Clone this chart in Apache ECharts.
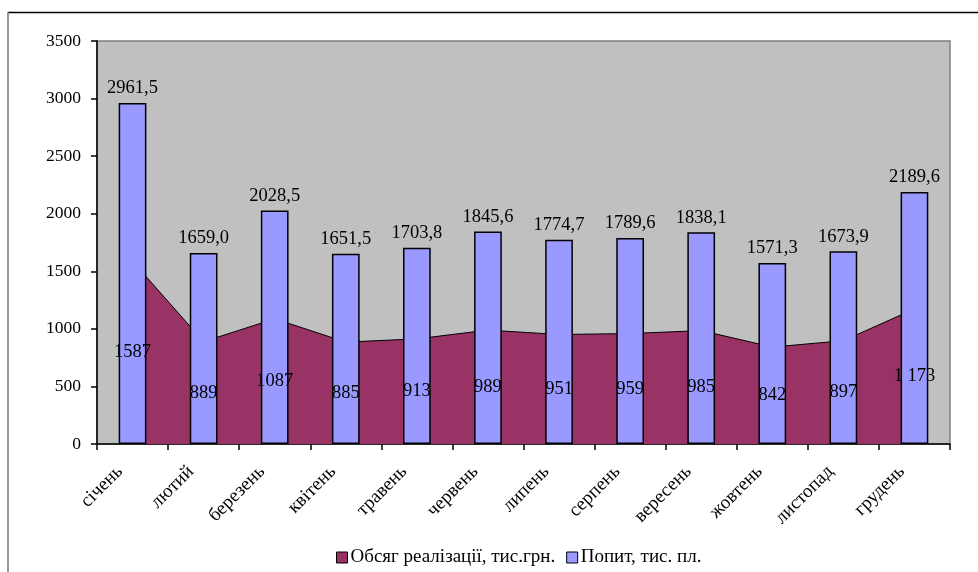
<!DOCTYPE html>
<html>
<head>
<meta charset="utf-8">
<script src="https://cdn.jsdelivr.net/npm/echarts@6/dist/echarts.min.js"></script>
<style>
  html, body { margin: 0; padding: 0; background: #ffffff; }
  #chart { width: 978px; height: 572px; }
</style>
</head>
<body>
<div id="chart"></div>
<script>
// Months of the year
const months = ['січень', 'лютий', 'березень', 'квітень', 'травень', 'червень',
                'липень', 'серпень', 'вересень', 'жовтень', 'листопад', 'грудень'];

// Sales volume, thousand UAH
const salesVolume = [1587, 889, 1087, 885, 913, 989, 951, 959, 985, 842, 897, 1173];
// Text shown on the sales values
const salesText = ['1587', '889', '1087', '885', '913', '989', '951', '959', '985', '842', '897', '1 173'];

// Demand, thousand units
const demand = [2961.5, 1659.0, 2028.5, 1651.5, 1703.8, 1845.6, 1774.7, 1789.6, 1838.1, 1571.3, 1673.9, 2189.6];

// Value axis ticks
const yMin = 0, yMax = 3500, yStep = 500;

const salesName = 'Обсяг реалізації, тис.грн.';
const demandName = 'Попит, тис. пл.';

const FONT = '"Liberation Serif", "Times New Roman", serif';

const chart = echarts.init(document.getElementById('chart'), null, { renderer: 'canvas' });

chart.setOption({
  animation: false,
  backgroundColor: '#ffffff',
  textStyle: { fontFamily: FONT, color: '#000' },
  graphic: [
    { type: 'line', shape: { x1: 8, y1: 12.5, x2: 978, y2: 12.5 }, style: { stroke: '#000', lineWidth: 1.5 }, z: 0 },
    { type: 'line', shape: { x1: 8, y1: 12, x2: 8, y2: 572 }, style: { stroke: '#777', lineWidth: 1.5 }, z: 0 }
  ],
  grid: {
    left: 97, right: 28, top: 41, bottom: 128,
    show: true, backgroundColor: '#C0C0C0', borderColor: '#808080', borderWidth: 1.5
  },
  legend: {
    left: 331, top: 543,
    itemWidth: 11, itemHeight: 11, itemGap: 11,
    icon: 'rect',
    textStyle: { fontFamily: FONT, fontSize: 19, color: '#000', padding: [0, 0, 0, -2] },
    data: [
      { name: salesName, itemStyle: { color: '#993366', borderColor: '#000', borderWidth: 1 }, lineStyle: { opacity: 0 } },
      { name: demandName, itemStyle: { color: '#9999FF', borderColor: '#000', borderWidth: 1 } }
    ]
  },
  xAxis: {
    type: 'category',
    data: months,
    boundaryGap: true,
    axisLine: { lineStyle: { color: '#000', width: 1.5 } },
    axisTick: { show: true, length: 6, lineStyle: { color: '#000', width: 1.5 } },
    axisLabel: {
      rotate: 45, margin: 12, padding: [0, 18, 0, 0],
      fontFamily: FONT, fontSize: 19, color: '#000', interval: 0
    },
    splitLine: { show: false }
  },
  yAxis: {
    type: 'value',
    min: yMin, max: yMax, interval: yStep,
    axisLine: { show: true, lineStyle: { color: '#000', width: 1.5 } },
    axisTick: { show: true, length: 6, lineStyle: { color: '#000', width: 1.5 } },
    axisLabel: { margin: 16, fontFamily: FONT, fontSize: 17.5, color: '#000', formatter: v => String(v) },
    splitLine: { show: false }
  },
  series: [
    {
      name: salesName,
      type: 'line',
      data: salesVolume,
      symbol: 'none',
      z: 1,
      itemStyle: { color: '#993366' },
      lineStyle: { color: '#000', width: 1 },
      areaStyle: { color: '#993366', opacity: 1 }
    },
    {
      name: demandName,
      type: 'bar',
      data: demand,
      barWidth: '39%',
      barGap: '-100%',
      z: 3,
      itemStyle: { color: '#9999FF', borderColor: '#000', borderWidth: 1.5 },
      label: {
        show: true, position: 'top', distance: 5,
        fontFamily: FONT, fontSize: 18.5, color: '#000',
        formatter: p => p.value.toFixed(1).replace('.', ',')
      }
    },
    {
      // carries the sales figures, centred at mid-height of each sales value
      name: 'salesLabels',
      type: 'bar',
      data: salesVolume,
      barWidth: '39%',
      barGap: '-100%',
      z: 4,
      silent: true,
      itemStyle: { color: 'rgba(0,0,0,0)' },
      label: {
        show: true, position: 'inside',
        fontFamily: FONT, fontSize: 18.5, color: '#000',
        formatter: p => salesText[p.dataIndex]
      }
    }
  ]
});
</script>
</body>
</html>
